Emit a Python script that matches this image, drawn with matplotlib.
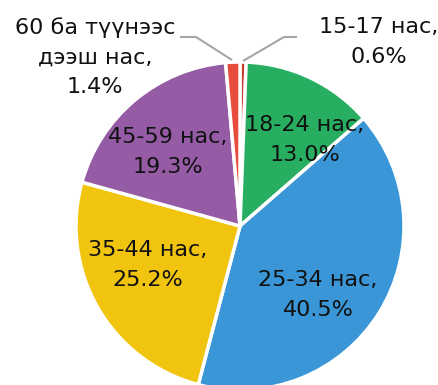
import matplotlib
matplotlib.use("Agg")
import matplotlib.pyplot as plt
import numpy as np

# Age groups and their shares (%)
categories = ["15-17 нас", "18-24 нас", "25-34 нас", "35-44 нас", "45-59 нас",
              "60 ба түүнээс\nдээш нас"]
shares = [0.6, 13.0, 40.5, 25.2, 19.3, 1.4]
colors = ["#c0392b", "#27ae60", "#3a96d6", "#f1c40f", "#955ba5", "#e74c3c"]

W, H = 439, 385
fig = plt.figure(figsize=(W / 100, H / 100), dpi=100)
ax = fig.add_axes([0, 0, 1, 1])

cx, cy, R = 240, H - 226, 164
wedges, _ = ax.pie(shares, colors=colors, startangle=90, counterclock=False,
                   center=(cx, cy), radius=R, frame=True,
                   wedgeprops=dict(edgecolor="white", linewidth=2.5))
ax.set_xlim(0, W)
ax.set_ylim(0, H)
ax.set_aspect("equal")
ax.axis("off")

font = dict(family="DejaVu Sans", fontsize=16, color="#111111",
            ha="center", va="center", linespacing=1.6)

def label(i):
    return f"{categories[i]},\n{shares[i]:.1f}%"

# inside labels (pixel positions of label centres)
inside = {1: (305, 140), 2: (318, 295), 3: (148, 265), 4: (168, 152)}
for i, (px, py) in inside.items():
    ax.text(px, H - py, label(i), **font)

# outside labels with leader lines
ax.text(379, H - 42, label(0), **font)
ax.text(95, H - 57, label(5), **font)

line_kw = dict(color="#a6a6a6", linewidth=1.5, solid_capstyle="butt")
ax.plot([297, 284, 243], [H - 37, H - 37, H - 61], **line_kw)
ax.plot([180, 196, 232], [H - 37, H - 37, H - 60], **line_kw)

fig.savefig("out.png", dpi=100)
